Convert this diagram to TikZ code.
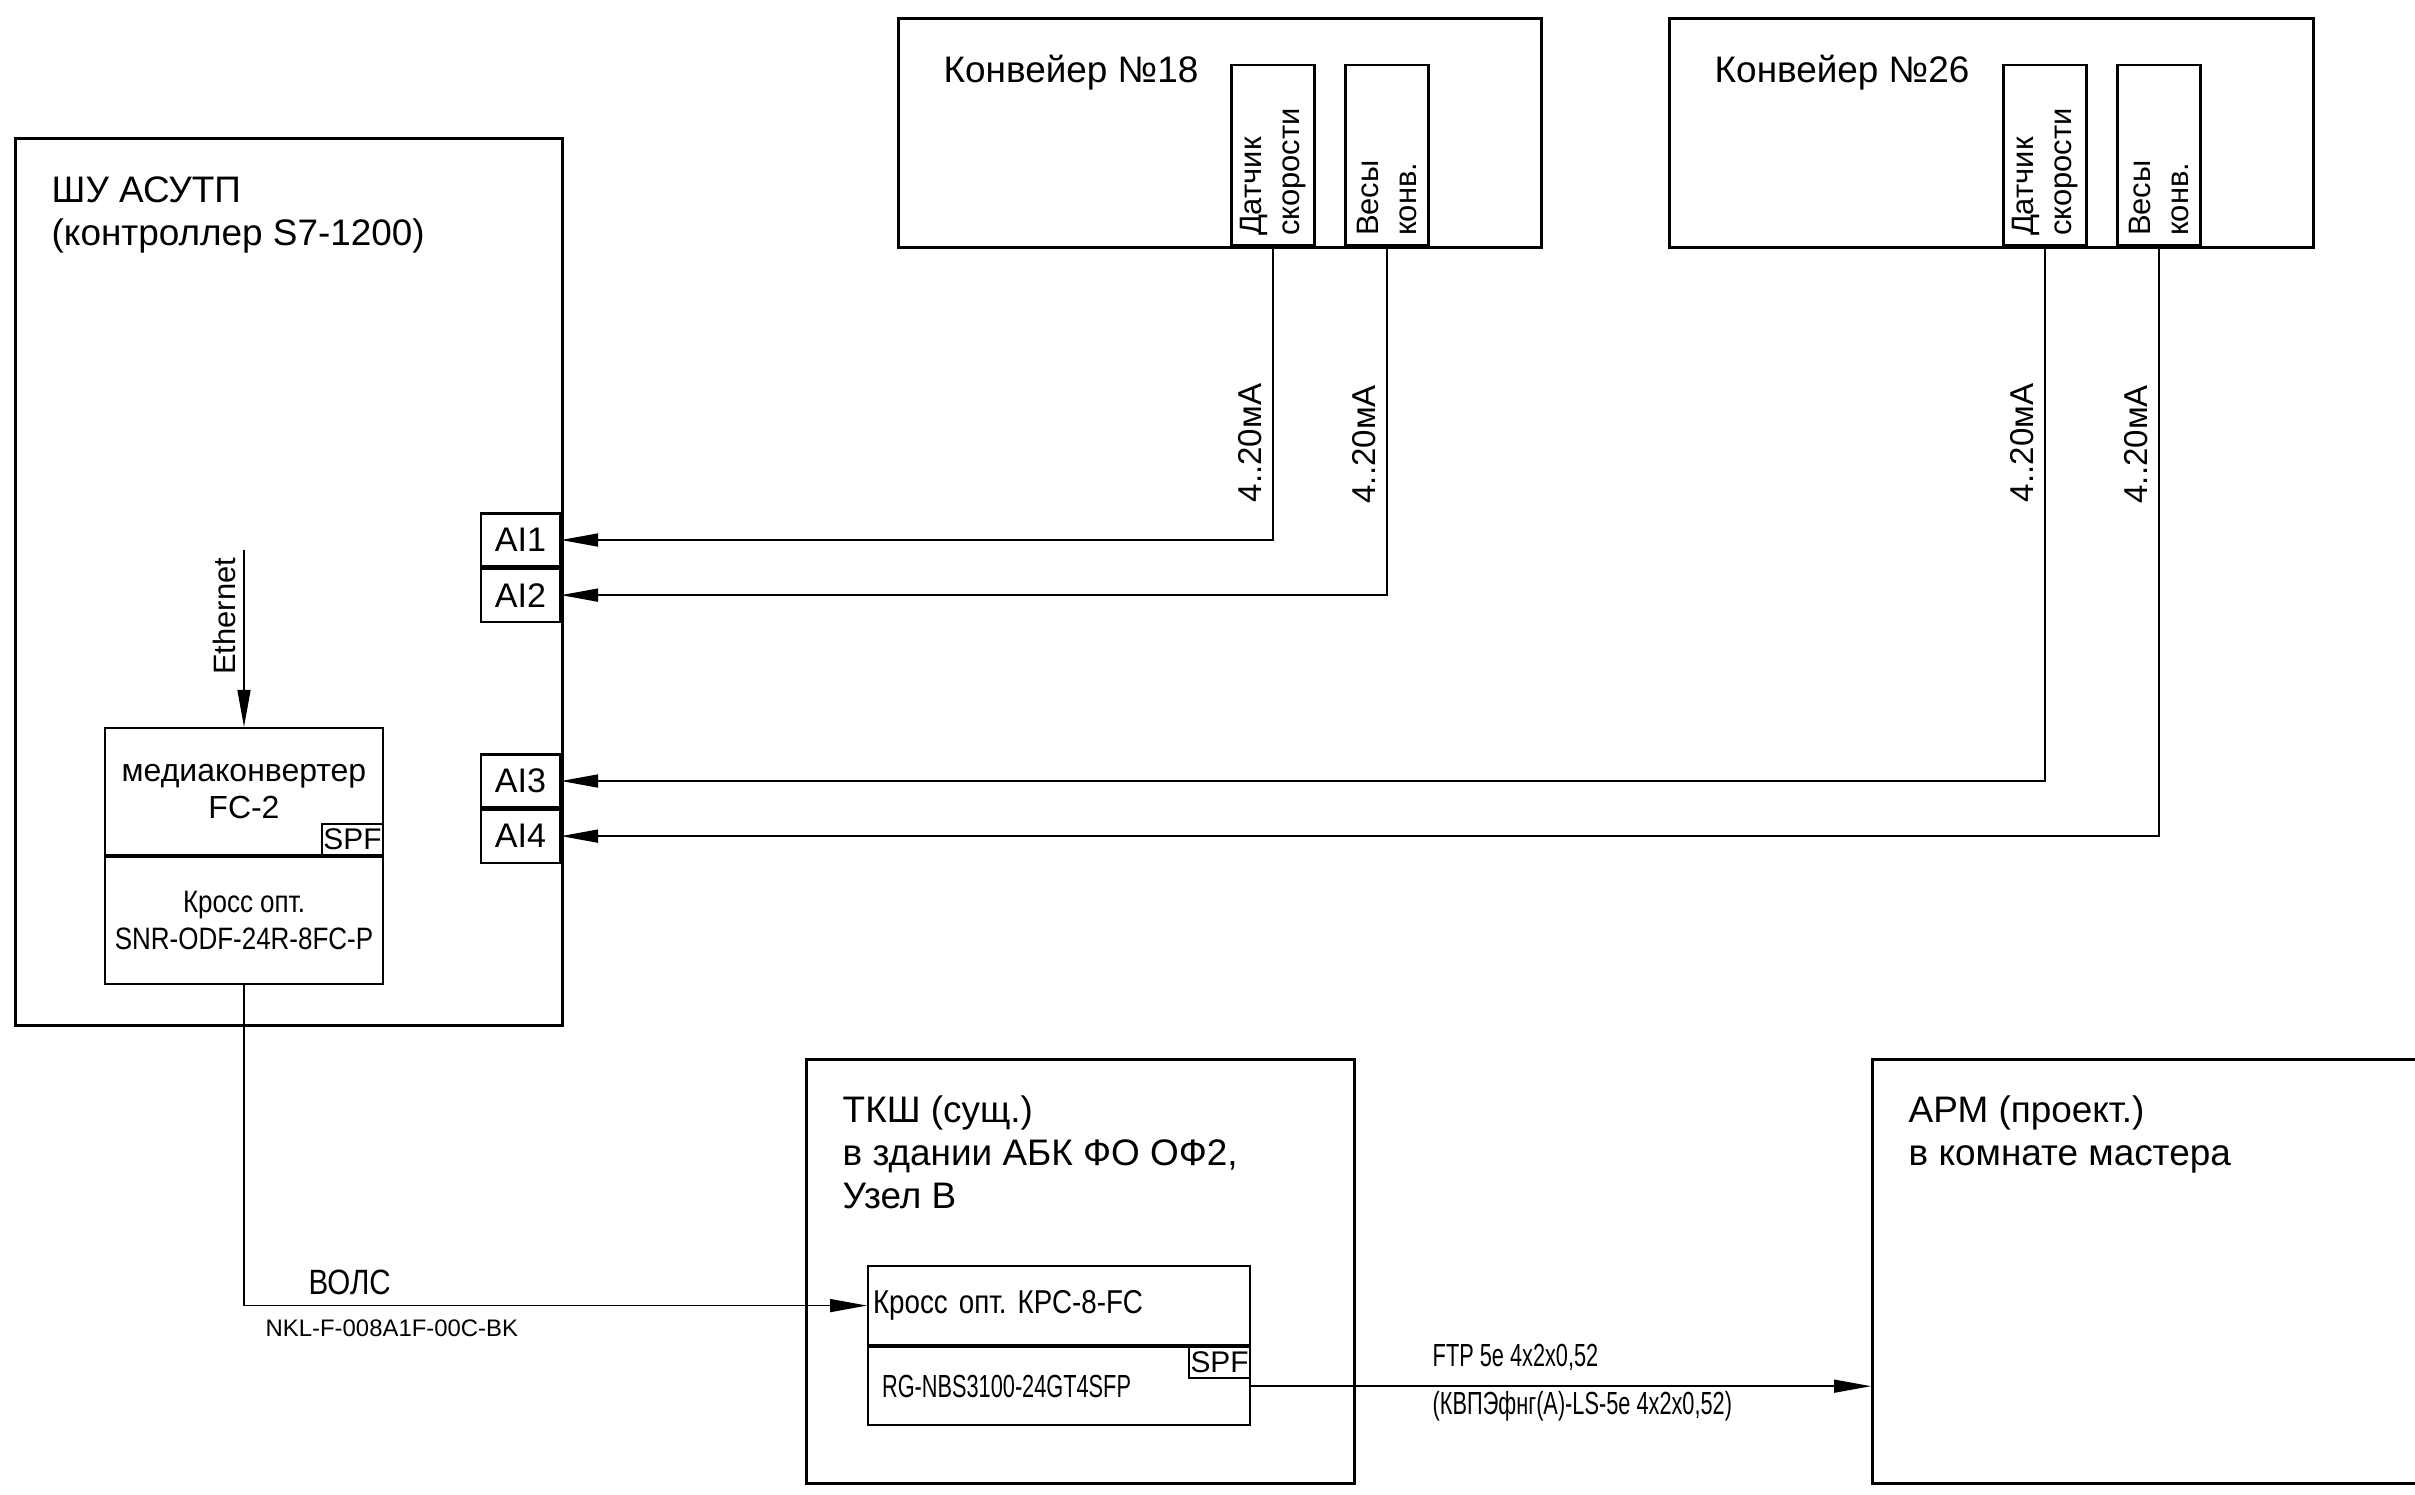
\documentclass[tikz,border=0pt]{standalone}
\usepackage{fontspec}
\setmainfont{Liberation Sans}
\newfontfamily\condfont[FakeStretch=0.84]{Liberation Sans}
\newfontfamily\narrowfont[FakeStretch=0.68]{Liberation Sans}
\usepackage{tikz}
\usetikzlibrary{positioning,arrows.meta}
\tikzset{
  box/.style={draw=black, line width=0.9pt, inner sep=0pt, anchor=north west},
  title/.style={align=left, inner sep=0pt, font=\fontsize{10.5}{12.3}\selectfont},
  sens/.style={draw=black, line width=0.6pt, rotate=90, anchor=west, text width=1.62cm, minimum height=0.83cm, inner xsep=0.09cm, inner ysep=0pt, align=left, font=\fontsize{8.8}{10.8}\selectfont},
  port/.style={draw=black, line width=0.6pt, minimum width=0.79cm, minimum height=0.53cm, inner sep=0pt, anchor=east, font=\fontsize{9.7}{11}\selectfont},
  unit/.style={draw=black, line width=0.6pt, minimum width=2.78cm, minimum height=1.27cm, inner sep=0pt, align=center},
  spf/.style={draw=black, line width=0.6pt, minimum width=0.61cm, minimum height=0.31cm, inner sep=0pt, font=\fontsize{8.5}{9}\selectfont},
  sig/.style={draw=black, line width=0.45pt, -{Triangle[length=0.37cm, width=0.13cm]}},
  ma/.style={rotate=90, anchor=south, inner sep=0.1cm, font=\fontsize{9.4}{11}\selectfont},
  cab/.style={anchor=west, inner sep=0pt}
}

\begin{document}
\frenchspacing
\begin{tikzpicture}
  \clip (0,0) rectangle (24.15,-14.94);
  % conveyors
  \node[box, minimum width=6.43cm, minimum height=2.29cm] (k18) at (8.97,-0.17) {};
  \node[title, below right=0.37cm and 0.46cm of k18.north west] (k18t) {Конвейер №18};
  \node[sens] (k18s) at (12.73,-2.46) {Датчик\\скорости};
  \node[sens] (k18w) at (13.87,-2.46) {Весы\\конв.};
  \node[box, minimum width=6.44cm, minimum height=2.29cm] (k26) at (16.68,-0.17) {};
  \node[title, below right=0.37cm and 0.46cm of k26.north west] (k26t) {Конвейер №26};
  \node[sens] (k26s) at (20.45,-2.46) {Датчик\\скорости};
  \node[sens] (k26w) at (21.59,-2.46) {Весы\\конв.};

  % control cabinet
  \node[box, minimum width=5.47cm, minimum height=8.87cm] (shu) at (0.14,-1.37) {};
  \node[title, below right=0.39cm and 0.37cm of shu.north west] (shut) {ШУ АСУТП\\(контроллер S7-1200)};
  \node[port] (ai1) at (5.61,-5.40) {AI1};
  \node[port, below=0pt of ai1] (ai2) {AI2};
  \node[port] (ai3) at (5.61,-7.81) {AI3};
  \node[port, below=0pt of ai3] (ai4) {AI4};
  \node[unit, font=\fontsize{9.1}{10.5}\selectfont] (mc) at (2.44,-7.915) {медиаконвертер\\FC-2};
  \node[unit, below=0pt of mc, font=\condfont\fontsize{8.8}{10.5}\selectfont] (odf) {Кросс опт.\\SNR-ODF-24R-8FC-P};
  \node[spf, anchor=south east] (mcspf) at (mc.south east) {SPF};
  \coordinate (eth) at (2.44,-5.50);
  \draw[sig] (eth) -- node[pos=0, rotate=90, anchor=south east, inner sep=0.07cm, font=\fontsize{8.8}{10}\selectfont] {Ethernet} (mc.north);

  % 4..20 mA lines
  \draw[sig] (k18s.west) |- node[ma, pos=0.335] {4..20мА} (ai1.east);
  \draw[sig] (k18w.west) |- node[ma, pos=0.284] {4..20мА} (ai2.east);
  \draw[sig] (k26s.west) |- node[ma, pos=0.184] {4..20мА} (ai3.east);
  \draw[sig] (k26w.west) |- node[ma, pos=0.168] {4..20мА} (ai4.east);

  % telecom cabinet
  \node[box, minimum width=5.48cm, minimum height=4.24cm] (tksh) at (8.05,-10.58) {};
  \node[title, below right=0.37cm and 0.37cm of tksh.north west] (tksht) {ТКШ (сущ.)\\в здании АБК ФО ОФ2,\\Узел В};
  \node[draw=black, line width=0.6pt, anchor=north west, minimum height=0.79cm, text width=3.72cm, inner xsep=0.05cm, inner ysep=0pt, align=left, font=\condfont\fontsize{9.4}{11}\selectfont] (krs) at (8.67,-12.65) {Кросс опт. КРС-8-FC};
  \node[draw=black, line width=0.6pt, below=0pt of krs, minimum height=0.78cm, text width=3.54cm, inner xsep=0.14cm, inner ysep=0pt, align=left, font=\narrowfont\fontsize{9.1}{11}\selectfont] (sw) {RG-NBS3100-24GT4SFP};
  \node[spf, anchor=north east] (swspf) at (sw.north east) {SPF};

  % workstation
  \node[box, minimum width=7cm, minimum height=4.24cm] (arm) at (18.71,-10.58) {};
  \node[title, below right=0.37cm and 0.37cm of arm.north west] (armt) {АРМ (проект.)\\в комнате мастера};

  % cables
  \draw[sig] (odf.south) |- (krs.west);
  \node[cab, font=\condfont\fontsize{10}{12}\selectfont] (vols) at (3.08,-12.82) {ВОЛС};
  \node[cab, font=\fontsize{6.8}{8}\selectfont] (nkl) at (2.65,-13.28) {NKL-F-008A1F-00C-BK};
  \draw[sig] (sw.east) -- (sw.east -| arm.west);
  \node[cab, font=\narrowfont\fontsize{9.1}{11}\selectfont] (ftp) at (14.32,-13.57) {FTP 5e 4x2x0,52};
  \node[cab, font=\narrowfont\fontsize{9.1}{11}\selectfont] (kvp) at (14.32,-14.06) {(КВПЭфнг(А)-LS-5e 4x2x0,52)};
\end{tikzpicture}
\end{document}
